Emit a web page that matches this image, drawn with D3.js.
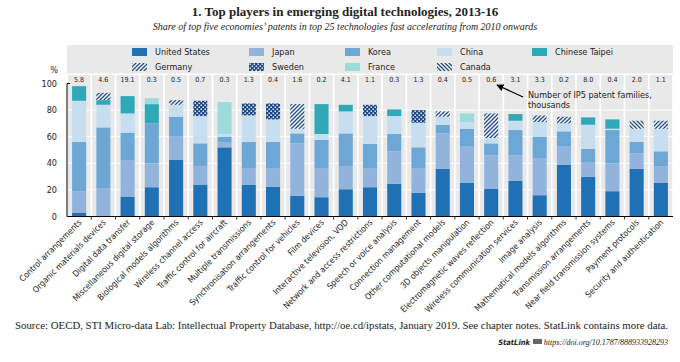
<!DOCTYPE html>
<html>
<head>
<meta charset="utf-8">
<script src="https://cdn.jsdelivr.net/npm/d3@7"></script>
<style>
  body { margin: 0; background: #fff; }
  svg text { fill: #222; }
  .narrow { font-family: 'Liberation Sans Narrow', 'DejaVu Sans Condensed', 'Arial Narrow', sans-serif; }
  .serif { font-family: 'Liberation Serif', 'DejaVu Serif', serif; }
</style>
</head>
<body>
<svg id="chart" width="680" height="362"></svg>
<script>
var categories = ["Control arrangements", "Organic materials devices", "Digital data transfer",
  "Miscellaneous digital storage", "Biological models algorithms", "Wireless channel access",
  "Traffic control for aircraft", "Multiple transmissions", "Synchronisation arrangements",
  "Traffic control for vehicles", "Film devices", "Interactive television, VOD",
  "Network and access restrictions", "Speech or voice analysis", "Connection management",
  "Other computational models", "3D objects manipulation", "Electromagnetic waves reflection",
  "Wireless communication services", "Image analysis", "Mathematical models algorithms",
  "Transmission arrangements", "Near field transmission systems", "Payment protocols",
  "Security and authentication"];

// number of IP5 patent families, thousands
var ip5Counts = ["5.8", "4.6", "19.1", "0.3", "0.5", "0.7", "0.3", "1.3", "0.4", "1.6", "0.2", "4.1",
  "1.1", "0.3", "1.3", "0.4", "0.5", "0.6", "3.1", "3.3", "0.2", "8.0", "0.4", "2.0", "1.1"];

var unitedStates = [3, 0, 15, 22, 42.5, 24, 52, 24, 22.5, 15.5, 14.5, 20.5, 22, 24.5, 18, 36, 25.5, 21, 27, 16, 39, 30, 19, 36, 25.5];
var japan        = [16, 21, 27.5, 18, 17.5, 14, 4, 12, 13.5, 39.5, 21.5, 17.5, 14, 24.5, 18, 26.5, 27, 25, 19, 28, 13.5, 11, 21, 11.5, 12];
var korea        = [37, 46, 20.5, 30, 15, 17, 4, 20, 20, 7.5, 21.5, 24.5, 18.5, 13, 16, 6.5, 13.5, 9, 19, 16, 11.5, 10, 25, 8.5, 11.5];
var china        = [31, 17, 14.5, 0, 9, 20.5, 2, 20, 17, 3.5, 4.5, 16.5, 21, 13.5, 18.5, 6, 5, 4, 7, 11, 6, 18, 1, 10, 17];
var chineseTaipei= [11, 3.5, 13, 14.5, 0, 0, 0, 0, 0, 0, 22.5, 5, 0, 5, 0, 0, 0, 0, 5, 0, 0, 5.5, 7, 0, 0];
var germany      = [0, 5.5, 0, 0, 3.5, 0, 0, 0, 0, 18.5, 0, 0, 0, 0, 0, 4, 0, 18.5, 0, 5, 5, 0, 0, 0, 6];
var sweden       = [0, 0, 0, 0, 0, 11.5, 0, 9, 12, 0, 0, 0, 8.5, 0, 9.5, 0, 0, 0, 0, 0, 0, 0, 0, 0, 0];
var france       = [0, 0, 0, 4.5, 0, 0, 24, 0, 0, 0, 0, 0, 0, 0, 0, 0, 6.5, 0, 0, 0, 0, 0, 0, 0, 0];
var canada       = [0, 0, 0, 0, 0, 0, 0, 0, 0, 0, 0, 0, 0, 0, 0, 0, 0, 0, 0, 0, 0, 0, 0, 6, 0];

var economies = ["United States", "Japan", "Korea", "China", "Chinese Taipei",
  "Germany", "Sweden", "France", "Canada"];
var seriesValues = [unitedStates, japan, korea, china, chineseTaipei, germany, sweden, france, canada];
var yTicks = [0, 20, 40, 60, 80, 100];

var fills = {
  "United States": "#1f70b4",
  "Japan": "#92b4dc",
  "Korea": "#6da7d6",
  "China": "#c7def0",
  "Chinese Taipei": "#2fa8b7",
  "Germany": "url(#hatchGermany)",
  "Sweden": "url(#checkSweden)",
  "France": "#9edcdc",
  "Canada": "url(#hatchCanada)"
};

var table = categories.map(function(c, i) {
  var row = {category: c};
  economies.forEach(function(e, k) { row[e] = seriesValues[k][i]; });
  return row;
});

var svg = d3.select("#chart");
var plotLeft = 67, plotRight = 673, plotTop = 83.5, plotBottom = 216.5;

// patterns
var defs = svg.append("defs");
var navy = "#1d4a86";
var pg = defs.append("pattern").attr("id", "hatchGermany").attr("patternUnits", "userSpaceOnUse")
  .attr("width", 4).attr("height", 4);
pg.append("rect").attr("width", 4).attr("height", 4).attr("fill", "#fff");
pg.append("path").attr("d", "M-1,1 l2,-2 M0,4 l4,-4 M3,5 l2,-2")
  .attr("stroke", navy).attr("stroke-width", 1.3);
var pc = defs.append("pattern").attr("id", "hatchCanada").attr("patternUnits", "userSpaceOnUse")
  .attr("width", 4).attr("height", 4);
pc.append("rect").attr("width", 4).attr("height", 4).attr("fill", "#fff");
pc.append("path").attr("d", "M-1,3 l2,2 M0,0 l4,4 M3,-1 l2,2")
  .attr("stroke", navy).attr("stroke-width", 1.3);
var ps = defs.append("pattern").attr("id", "checkSweden").attr("patternUnits", "userSpaceOnUse")
  .attr("width", 4).attr("height", 4);
ps.append("rect").attr("width", 4).attr("height", 4).attr("fill", navy);
ps.append("rect").attr("x", 0.5).attr("y", 0.5).attr("width", 1.4).attr("height", 1.4).attr("fill", "#fff");
ps.append("rect").attr("x", 2.5).attr("y", 2.5).attr("width", 1.4).attr("height", 1.4).attr("fill", "#fff");

var x = d3.scaleBand().domain(categories).range([plotLeft, plotRight]).paddingInner(0.42).paddingOuter(0.21);
var xCol = d3.scaleBand().domain(categories).range([plotLeft, plotRight]).paddingInner(0.07).paddingOuter(0.035);
var y = d3.scaleLinear().domain([0, 100]).range([plotBottom, plotTop]);

// titles
svg.append("text").attr("class", "serif").attr("x", 345).attr("y", 16)
  .attr("text-anchor", "middle").style("font-size", "13px").style("font-weight", "bold")
  .text("1. Top players in emerging digital technologies, 2013-16");
svg.append("text").attr("class", "serif").attr("x", 345).attr("y", 30)
  .attr("text-anchor", "middle").style("font-size", "10px").style("font-style", "italic")
  .text("Share of top five economies\u2019 patents in top 25 technologies fast accelerating from 2010 onwards");

// legend box
svg.append("rect").attr("x", plotLeft).attr("y", 45).attr("width", plotRight - plotLeft).attr("height", 28.5)
  .attr("fill", "#e9e9e9");
var legendPos = [[132, 52], [249, 52], [345, 52], [437, 52], [532, 52],
                 [132, 67], [249, 67], [345, 67], [437, 67]];
var legend = svg.append("g").selectAll("g").data(economies).enter().append("g")
  .attr("transform", function(d, i) { return "translate(" + legendPos[i][0] + "," + legendPos[i][1] + ")"; });
legend.append("rect").attr("x", 0).attr("y", -4).attr("width", 15).attr("height", 8)
  .attr("fill", function(d) { return fills[d]; });
legend.append("text").attr("class", "narrow").attr("x", 23).attr("y", 3.2)
  .style("font-size", "9px").text(function(d) { return d; });

// column backgrounds
svg.append("g").selectAll("rect").data(categories).enter().append("rect")
  .attr("x", function(d) { return xCol(d); }).attr("y", 75)
  .attr("width", xCol.bandwidth()).attr("height", plotBottom - 75)
  .attr("fill", "#e9e9e9");

// gridlines
svg.append("g").selectAll("line").data(yTicks.filter(function(t) { return t > 0 && t < 100; }))
  .enter().append("line")
  .attr("x1", plotLeft).attr("x2", plotRight)
  .attr("y1", function(d) { return y(d); }).attr("y2", function(d) { return y(d); })
  .attr("stroke", "#fff").attr("stroke-width", 1);

// stacked bars
var stacked = d3.stack().keys(economies)(table);
svg.append("g").selectAll("g").data(stacked).enter().append("g")
  .attr("fill", function(d) { return fills[d.key]; })
  .selectAll("rect").data(function(d) { return d; }).enter().append("rect")
  .attr("x", function(d) { return x(d.data.category); })
  .attr("y", function(d) { return y(d[1]); })
  .attr("width", x.bandwidth())
  .attr("height", function(d) { return y(d[0]) - y(d[1]); });

// IP5 counts on top
svg.append("g").selectAll("text").data(categories).enter().append("text")
  .attr("class", "narrow")
  .attr("x", function(d) { return x(d) + x.bandwidth() / 2; })
  .attr("y", 82).attr("text-anchor", "middle").style("font-size", "7px")
  .text(function(d, i) { return ip5Counts[i]; });

// y axis
svg.append("g").selectAll("text").data(yTicks).enter().append("text")
  .attr("class", "narrow").attr("x", 57).attr("y", function(d) { return y(d) + 3; })
  .attr("text-anchor", "end").style("font-size", "9px").text(function(d) { return d; });
svg.append("text").attr("class", "narrow").attr("x", 54).attr("y", 73)
  .attr("text-anchor", "middle").style("font-size", "9px").text("%");
svg.append("path").attr("d", "M" + (plotLeft + 3) + "," + y(100) + "H" + plotLeft + "V" + plotBottom)
  .attr("fill", "none").attr("stroke", "#000").attr("stroke-width", 1);

// x axis baseline and ticks
svg.append("line").attr("x1", plotLeft).attr("x2", plotRight).attr("y1", plotBottom).attr("y2", plotBottom)
  .attr("stroke", "#000").attr("stroke-width", 1.2);
svg.append("g").selectAll("line").data(categories.slice(1)).enter().append("line")
  .attr("x1", function(d) { return x(d) - x.step() * x.paddingInner() / 2; })
  .attr("x2", function(d) { return x(d) - x.step() * x.paddingInner() / 2; })
  .attr("y1", plotBottom).attr("y2", plotBottom + 3)
  .attr("stroke", "#333").attr("stroke-width", 1);

// category labels
svg.append("g").selectAll("text").data(categories).enter().append("text")
  .attr("class", "narrow")
  .attr("transform", function(d) { return "translate(" + (x(d) + x.bandwidth() / 2 + 3) + "," + 223 + ") rotate(-45)"; })
  .attr("text-anchor", "end").style("font-size", "8.5px")
  .text(function(d) { return d; });

// annotation
svg.append("text").attr("class", "narrow").attr("x", 528).attr("y", 98)
  .style("font-size", "9px").text("Number of IP5 patent families,");
svg.append("text").attr("class", "narrow").attr("x", 528).attr("y", 108)
  .style("font-size", "9px").text("thousands");
defs.append("marker").attr("id", "arrow").attr("viewBox", "0 0 10 10")
  .attr("refX", 9).attr("refY", 5).attr("markerWidth", 6).attr("markerHeight", 6)
  .attr("orient", "auto").append("path").attr("d", "M0,0 L10,5 L0,10 z").attr("fill", "#000");
svg.append("line").attr("x1", 523).attr("y1", 97).attr("x2", 497).attr("y2", 85)
  .attr("stroke", "#000").attr("stroke-width", 1.2).attr("marker-end", "url(#arrow)");

// source
svg.append("text").attr("class", "serif").attr("x", 15).attr("y", 329)
  .attr("textLength", 653).attr("lengthAdjust", "spacingAndGlyphs")
  .style("font-size", "10px")
  .text("Source: OECD, STI Micro-data Lab: Intellectual Property Database, http://oe.cd/ipstats, January 2019. See chapter notes. StatLink contains more data.");
svg.append("text").attr("class", "serif").attr("x", 668).attr("y", 345)
  .attr("text-anchor", "end").style("font-size", "8px").style("font-style", "italic")
  .text("https://doi.org/10.1787/888933928293");
svg.append("rect").attr("x", 533).attr("y", 339).attr("width", 9).attr("height", 5).attr("fill", "#666");
svg.append("text").attr("class", "narrow").attr("x", 530).attr("y", 345)
  .attr("text-anchor", "end").style("font-size", "7.5px").style("font-style", "italic").style("font-weight", "bold")
  .text("StatLink");
</script>
</body>
</html>
